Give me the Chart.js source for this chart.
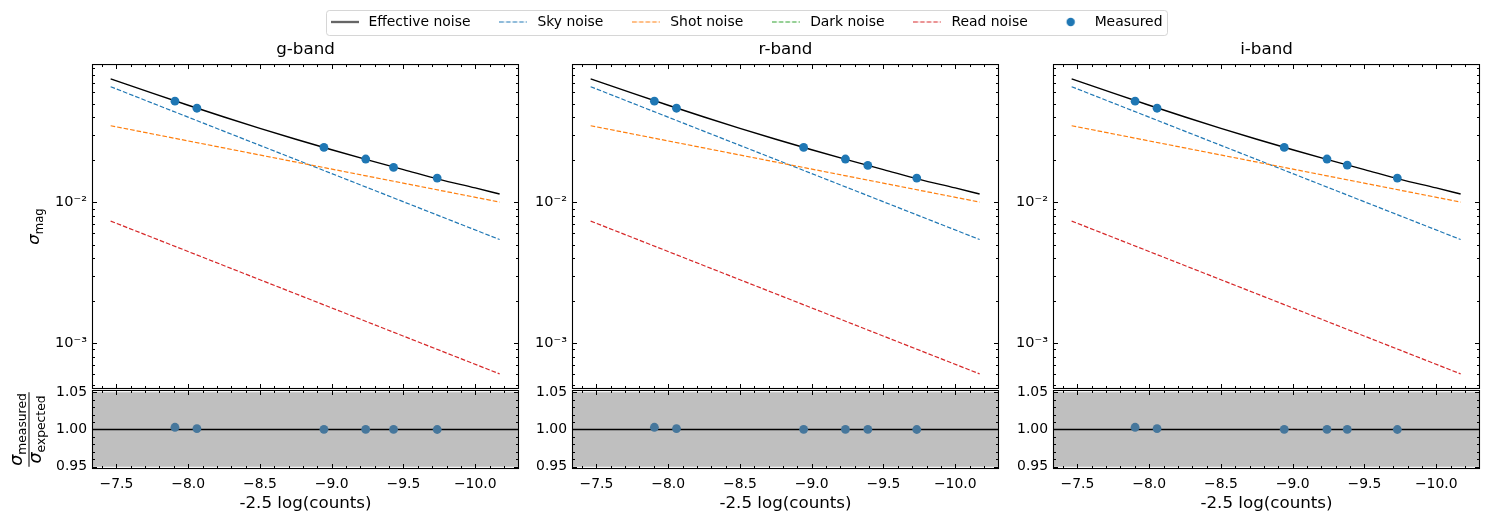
<!DOCTYPE html>
<html>
<head>
<meta charset="utf-8">
<script src="https://cdn.jsdelivr.net/npm/chart.js@4.4.1/dist/chart.umd.min.js"></script>
<style>
  html, body { margin: 0; padding: 0; background: #fff; }
  body { position: relative; width: 1490px; height: 522px; overflow: hidden; }
  canvas { position: absolute; }
</style>
</head>
<body>
<script>
// ---- data ----
const bands = ['g-band', 'r-band', 'i-band'];

// model curves (same in all three bands)
const modelMag = [-7.46, -7.75, -8.0, -8.25, -8.5, -8.75, -9.0, -9.25, -9.5, -9.75, -10.0, -10.17];
const effectiveNoise = [0.0748, 0.0592, 0.0486, 0.0401, 0.0333, 0.0279, 0.0235, 0.0199, 0.0170, 0.0145, 0.0126, 0.0114];
const lineMag = [-7.46, -10.17];
const skyNoise = [0.0658, 0.00542];
const shotNoise = [0.0348, 0.0100];
const darkNoise = [];           // below the plotted range, only shows in the legend
const readNoise = [0.00733, 0.000604];

// measured points
const gMag = [-7.908, -8.061, -8.946, -9.237, -9.431, -9.735];
const gSigma = [0.0520, 0.0463, 0.0244, 0.0202, 0.0176, 0.0148];
const gRatio = [1.003, 1.0013, 1.0002, 1.0001, 1.0001, 1.0];
const rMag = [-7.904, -8.058, -8.944, -9.235, -9.391, -9.732];
const rSigma = [0.0520, 0.0463, 0.0244, 0.0202, 0.0182, 0.0148];
const rRatio = [1.003, 1.0013, 1.0002, 1.0001, 1.0001, 1.0];
const iMag = [-7.902, -8.055, -8.941, -9.239, -9.380, -9.729];
const iSigma = [0.0520, 0.0463, 0.0244, 0.0202, 0.0183, 0.0148];
const iRatio = [1.003, 1.0013, 1.0002, 1.0001, 1.0001, 1.0];

// ticks
const xTicks = [-7.5, -8.0, -8.5, -9.0, -9.5, -10.0];
const sigmaTicks = [1e-3, 1e-2];
const ratioTicks = [0.95, 1.00, 1.05];
const ratioBand = [0.95, 1.05];

const bandMag = [gMag, rMag, iMag];
const bandSigma = [gSigma, rSigma, iSigma];
const bandRatio = [gRatio, rRatio, iRatio];

// ---- layout / style ----
const FONT = 'DejaVu Sans';
const tickFont = { family: FONT, size: 13.9 };
const labelFont = { family: FONT, size: 16.7, weight: 'normal' };
const panelLeft = [92, 572, 1053];
const plotW = 427;
const AXW = 92;

Chart.defaults.font.family = FONT;
Chart.defaults.color = '#000';

const xy = (xs, ys) => xs.map((x, i) => ({ x: x, y: ys[i] }));

// minor tick positions (axis decoration only)
const xMinor = [];
for (let k = 73; k <= 103; k++) if (k % 5 !== 0) xMinor.push(-k / 10);
const sigmaMinor = [];
[1e-4, 1e-3, 1e-2].forEach(d => { for (let k = 2; k <= 9; k++) sigmaMinor.push(k * d); });
const ratioMinor = [0.96, 0.97, 0.98, 0.99, 1.01, 1.02, 1.03, 1.04];

const tickSets = {
  top: { x: [[xTicks, 5], [xMinor, 3]], y: [[sigmaTicks, 5], [sigmaMinor, 3]] },
  ratio: { x: [[xTicks, 5], [xMinor, 3]], y: [[ratioTicks, 5], [ratioMinor, 3]] }
};

function supLabel(v) {
  const sup = { '-': '\u207B', '0': '\u2070', '1': '\u00B9', '2': '\u00B2', '3': '\u00B3', '4': '\u2074' };
  const e = Math.round(Math.log10(v));
  return '10' + String(e).split('').map(ch => sup[ch]).join('');
}

// vertical scales reserve room for half a label at both ends; these axes don't need it
const noEndPadding = s => { s.width = AXW; s.paddingTop = 0; s.paddingBottom = 0; };

// inward ticks on all four sides + frame, matplotlib style
const frameTicks = {
  id: 'frameTicks',
  beforeDatasetsDraw(chart, args, opts) {
    if (opts.mode !== 'ratio') return;
    const { ctx, chartArea: a, scales: { y } } = chart;
    ctx.save();
    const y1 = y.getPixelForValue(ratioBand[1]);
    const y0 = y.getPixelForValue(ratioBand[0]);
    ctx.fillStyle = '#bfbfbf';
    ctx.fillRect(a.left, y1, a.right - a.left, y0 - y1);
    const yr = Math.round(y.getPixelForValue(1)) + 0.5;
    ctx.strokeStyle = '#000';
    ctx.lineWidth = 1.3;
    ctx.beginPath();
    ctx.moveTo(a.left, yr);
    ctx.lineTo(a.right, yr);
    ctx.stroke();
    ctx.restore();
  },
  afterDatasetsDraw(chart, args, opts) {
    const { ctx, chartArea: a, scales: { x, y } } = chart;
    const sets = tickSets[opts.mode];
    ctx.save();
    ctx.strokeStyle = '#000';
    ctx.lineWidth = 1;
    ctx.beginPath();
    for (const [vals, len] of sets.x) {
      for (const v of vals) {
        const p = Math.round(x.getPixelForValue(v)) + 0.5;
        if (p < a.left + 1 || p > a.right - 1) continue;
        ctx.moveTo(p, a.bottom); ctx.lineTo(p, a.bottom - len);
        ctx.moveTo(p, a.top); ctx.lineTo(p, a.top + len);
      }
    }
    for (const [vals, len] of sets.y) {
      for (const v of vals) {
        const p = Math.round(y.getPixelForValue(v)) + 0.5;
        if (p < a.top + 1 || p > a.bottom - 1) continue;
        ctx.moveTo(a.left, p); ctx.lineTo(a.left + len, p);
        ctx.moveTo(a.right, p); ctx.lineTo(a.right - len, p);
      }
    }
    ctx.stroke();
    ctx.lineWidth = 1.1;
    ctx.strokeRect(a.left + 0.5, a.top + 0.5, a.right - a.left - 1, a.bottom - a.top - 1);
    ctx.restore();
  }
};

// y axis titles with subscripts
function subText(ctx, main, sub, x0, base, size) {
  ctx.font = 'italic ' + size + 'px "' + FONT + '"';
  ctx.fillText(main, x0, base);
  const w1 = ctx.measureText(main).width;
  ctx.font = (size * 0.7).toFixed(1) + 'px "' + FONT + '"';
  ctx.fillText(sub, x0 + w1, base + size * 0.22);
}
function subWidth(ctx, main, sub, size) {
  ctx.font = 'italic ' + size + 'px "' + FONT + '"';
  const w1 = ctx.measureText(main).width;
  ctx.font = (size * 0.7).toFixed(1) + 'px "' + FONT + '"';
  return w1 + ctx.measureText(sub).width;
}
const axisLabels = {
  id: 'axisLabels',
  afterDraw(chart, args, opts) {
    if (!opts.kind) return;
    const { ctx, chartArea: a } = chart;
    ctx.save();
    ctx.fillStyle = '#000';
    ctx.textBaseline = 'alphabetic';
    ctx.textAlign = 'left';
    if (opts.kind === 'sigma') {
      const s = 16.7;
      ctx.translate(39, (a.top + a.bottom) / 2);
      ctx.rotate(-Math.PI / 2);
      const w = subWidth(ctx, '\u03C3', 'mag', s);
      subText(ctx, '\u03C3', 'mag', -w / 2, 0, s);
    } else {
      const s = 17.5;
      ctx.translate(29, (a.top + a.bottom) / 2);
      ctx.rotate(-Math.PI / 2);
      const wn = subWidth(ctx, '\u03C3', 'measured', s);
      const wd = subWidth(ctx, '\u03C3', 'expected', s);
      const len = Math.max(wn, wd) + 2;
      subText(ctx, '\u03C3', 'measured', -wn / 2, -7, s);
      subText(ctx, '\u03C3', 'expected', -wd / 2, 12, s);
      ctx.fillRect(-len / 2, -0.5, len, 1);
    }
    ctx.restore();
  }
};

function lineSample(color, dash, width) {
  const c = document.createElement('canvas');
  c.width = 28; c.height = 5;
  const g = c.getContext('2d');
  g.strokeStyle = color; g.lineWidth = width; g.setLineDash(dash);
  g.beginPath(); g.moveTo(0, 2.5); g.lineTo(28, 2.5); g.stroke();
  return c;
}
function dotSample(color, r) {
  const c = document.createElement('canvas');
  c.width = 12; c.height = 12;
  const g = c.getContext('2d');
  g.fillStyle = color;
  g.beginPath(); g.arc(6, 6, r, 0, Math.PI * 2); g.fill();
  return c;
}

const DASH = [4.6, 2];
const series = [
  { label: 'Effective noise', color: '#000000', dash: [], width: 1.4 },
  { label: 'Sky noise', color: '#1f77b4', dash: DASH, width: 1.2 },
  { label: 'Shot noise', color: '#ff7f0e', dash: DASH, width: 1.2 },
  { label: 'Dark noise', color: '#2ca02c', dash: DASH, width: 1.2 },
  { label: 'Read noise', color: '#d62728', dash: DASH, width: 1.2 },
  { label: 'Measured', color: '#1f77b4', dot: true }
];
series.forEach(s => { s.sample = s.dot ? dotSample(s.color, 4.2) : lineSample(s.color, s.dash, s.width); });

function addCanvas(id, left, top, w, h) {
  const c = document.createElement('canvas');
  c.id = id; c.width = w; c.height = h;
  c.style.left = left + 'px'; c.style.top = top + 'px';
  document.body.appendChild(c);
  return c;
}

// ---- legend ----
const legendFrame = {
  id: 'legendFrame',
  afterDraw(chart) {
    const hb = chart.legend.legendHitBoxes;
    if (!hb || !hb.length) return;
    const first = hb[0], last = hb[hb.length - 1];
    const l = first.left - 1.5, r = last.left + last.width + 4.5;
    const t = first.top - 5, b = first.top + first.height + 6;
    const ctx = chart.ctx;
    ctx.save();
    ctx.strokeStyle = 'rgba(204,204,204,0.8)';
    ctx.lineWidth = 1;
    ctx.beginPath();
    ctx.roundRect(Math.round(l) + 0.5, Math.round(t) + 0.5, Math.round(r - l), Math.round(b - t), 3);
    ctx.stroke();
    ctx.restore();
  }
};
new Chart(addCanvas('legend', 0, -11, 1490, 80), {
  type: 'line',
  data: { datasets: series.map(s => ({ label: s.label, data: [], borderColor: s.color, backgroundColor: s.color })) },
  options: {
    responsive: false, animation: false, events: [],
    scales: { x: { display: false }, y: { display: false } },
    plugins: {
      tooltip: { enabled: false },
      legend: {
        display: true, position: 'top', align: 'center',
        labels: {
          usePointStyle: true, pointStyleWidth: 34, padding: 26, font: tickFont, color: '#000',
          generateLabels: () => series.map((s, i) => ({
            text: s.label, pointStyle: s.sample, fillStyle: s.color, strokeStyle: s.color,
            lineWidth: 0, hidden: false, datasetIndex: i, fontColor: '#000'
          }))
        }
      }
    }
  },
  plugins: [legendFrame]
});

// ---- panels ----
bands.forEach((band, c) => {
  const L = panelLeft[c];
  const styleOf = i => series[i];
  const lineSet = (i, data, order, extra) => Object.assign({
    label: styleOf(i).label, data: data, borderColor: styleOf(i).color, borderWidth: styleOf(i).width,
    borderDash: styleOf(i).dash, pointRadius: 0, fill: false, tension: 0, order: order
  }, extra || {});

  new Chart(addCanvas('top' + c, L - AXW, 40, AXW + plotW + 10, 349), {
    type: 'line',
    data: {
      datasets: [
        lineSet(0, xy(modelMag, effectiveNoise), 6, { cubicInterpolationMode: 'monotone' }),
        lineSet(1, xy(lineMag, skyNoise), 5),
        lineSet(2, xy(lineMag, shotNoise), 4),
        lineSet(3, xy(lineMag, darkNoise), 3),
        lineSet(4, xy(lineMag, readNoise), 2),
        {
          label: 'Measured', data: xy(bandMag[c], bandSigma[c]), showLine: false,
          pointRadius: 4.4, pointBorderWidth: 0, pointBackgroundColor: '#1f77b4',
          borderColor: '#1f77b4', order: 1
        }
      ]
    },
    options: {
      responsive: false, animation: false, events: [],
      layout: { autoPadding: false, padding: { top: 0, right: 10, bottom: 0, left: 0 } },
      plugins: {
        legend: { display: false }, tooltip: { enabled: false },
        title: { display: true, text: band, fullSize: false, font: labelFont, color: '#000', padding: { top: 0, bottom: 4 } },
        frameTicks: { mode: 'top' },
        axisLabels: { kind: c === 0 ? 'sigma' : '' }
      },
      scales: {
        x: { type: 'linear', min: -10.305, max: -7.33, reverse: true, display: false },
        y: {
          type: 'logarithmic', min: 4.72e-4, max: 0.0953,
          afterFit: noEndPadding,
          afterBuildTicks: s => { s.ticks = sigmaTicks.map(v => ({ value: v })); },
          ticks: { autoSkip: false, padding: 5, font: { family: FONT, size: 14.5 }, color: '#000', callback: v => supLabel(v) },
          grid: { display: false, drawTicks: false }, border: { display: false }
        }
      }
    },
    plugins: [frameTicks, axisLabels]
  });

  new Chart(addCanvas('ratio' + c, L - AXW, 379, AXW + plotW + 10, 143), {
    type: 'line',
    data: {
      datasets: [{
        label: 'Measured', data: xy(bandMag[c], bandRatio[c]), showLine: false,
        pointRadius: 4.4, pointBorderWidth: 0, pointBackgroundColor: '#46779c', borderColor: '#46779c'
      }]
    },
    options: {
      responsive: false, animation: false, events: [],
      layout: { autoPadding: false, padding: { top: 11, right: 10, bottom: 0, left: 0 } },
      plugins: {
        legend: { display: false }, tooltip: { enabled: false },
        frameTicks: { mode: 'ratio' },
        axisLabels: { kind: c === 0 ? 'ratio' : '' }
      },
      scales: {
        x: {
          type: 'linear', min: -10.305, max: -7.33, reverse: true,
          afterFit: s => { s.height = 53; },
          afterBuildTicks: s => { s.ticks = xTicks.map(v => ({ value: v })); },
          ticks: { autoSkip: false, maxRotation: 0, padding: 7, font: tickFont, color: '#000',
                   callback: v => v.toFixed(1).replace('-', '\u2212') },
          grid: { display: false, drawTicks: false }, border: { display: false },
          title: { display: true, text: '-2.5 log(counts)', font: labelFont, color: '#000', padding: { top: 0, bottom: 8 } }
        },
        y: {
          type: 'linear', min: 0.947, max: 1.053,
          afterFit: noEndPadding,
          afterBuildTicks: s => { s.ticks = ratioTicks.map(v => ({ value: v })); },
          ticks: { autoSkip: false, padding: 5, font: tickFont, color: '#000', callback: v => v.toFixed(2) },
          grid: { display: false, drawTicks: false }, border: { display: false }
        }
      }
    },
    plugins: [frameTicks, axisLabels]
  });
});
</script>
</body>
</html>
